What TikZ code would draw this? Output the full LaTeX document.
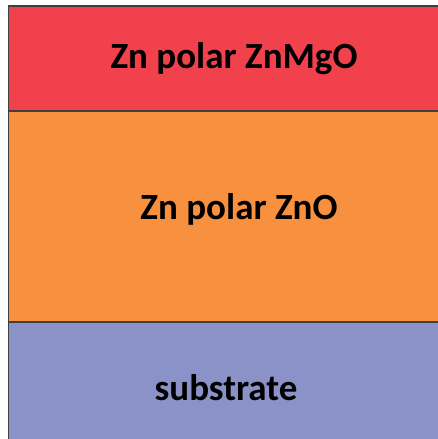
\documentclass[tikz,border=0pt]{standalone}
\usepackage{fontspec}
\setmainfont{Carlito}
\definecolor{layerred}{RGB}{240,65,77}
\definecolor{layerorange}{RGB}{247,145,63}
\definecolor{layerblue}{RGB}{139,146,200}
\tikzset{
  layer/.style={draw=black!75, line width=1.2pt},
  lbl/.style={font=\fontsize{37}{44}\selectfont\bfseries, text=black, inner sep=0pt, anchor=base}
}
\begin{document}
\begin{tikzpicture}[x=1pt,y=1pt]
\useasboundingbox (0,0) rectangle (438,439);
\fill[white] (0,0) rectangle (438,439);
\begin{scope}
\clip (0,0) rectangle (438,439);
% layers (y measured from bottom: y = 439 - pixel row)
\fill[layerblue] (8.5,-2) rectangle (442,117);
\fill[layerorange] (8.5,117) rectangle (442,328);
\fill[layerred] (8.5,328) rectangle (442,433);
\draw[layer] (8.5,-2) -- (8.5,433) -- (442,433);
\draw[layer] (8.5,328) -- (442,328);
\draw[layer] (8.5,117) -- (442,117);
\end{scope}
\node[lbl] (top) at (234,370) {Zn polar ZnMgO};
\node[lbl] (mid) at (239,219) {Zn polar ZnO};
\node[lbl] (sub) at (226,38) {substrate};
\end{tikzpicture}
\end{document}
